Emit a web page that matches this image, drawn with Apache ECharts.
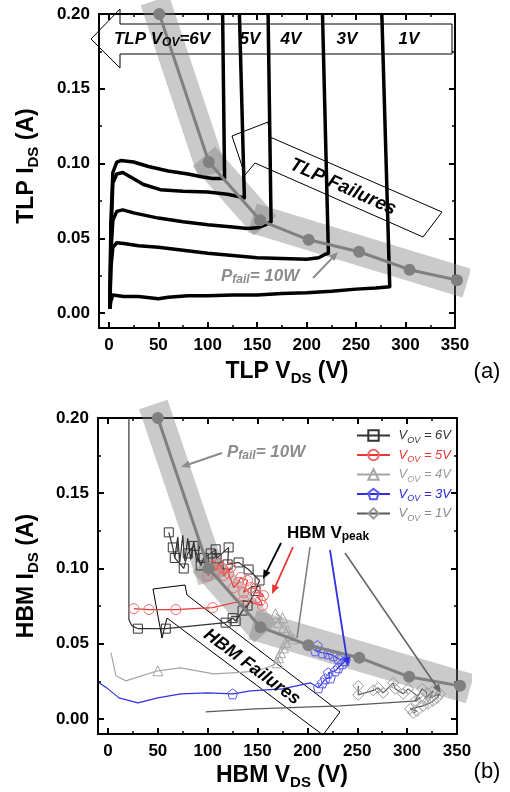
<!DOCTYPE html>
<html><head><meta charset="utf-8">
<script src="https://cdn.jsdelivr.net/npm/echarts@6/dist/echarts.min.js"></script>
<style>html,body{margin:0;padding:0;background:#fff}#c{width:510px;height:792px}</style>
</head><body><div id="c"></div>
<script>
// ---------------- data ----------------
const xTicks = [0, 50, 100, 150, 200, 250, 300, 350];
const xMinor = [25, 75, 125, 175, 225, 275, 325];
const yTicks = [0, 0.05, 0.10, 0.15, 0.20];
const yMinor = [0.025, 0.075, 0.125, 0.175];

// (a) TLP I-V curves
const tlp6V = [[1,0.003],[2,0.06],[4,0.094],[8,0.101],[12,0.102],[25,0.101],[40,0.098],[60,0.095],[80,0.093],[95,0.091],[105,0.090],[117,0.090],[115,0.20]];
const tlp5V = [[1,0.003],[2,0.05],[4,0.087],[8,0.093],[14,0.094],[22,0.091],[35,0.086],[52,0.0825],[75,0.0815],[100,0.081],[120,0.0795],[137,0.077],[132,0.20]];
const tlp4V = [[1,0.003],[2,0.04],[4,0.062],[8,0.068],[14,0.069],[25,0.067],[50,0.0635],[75,0.061],[100,0.059],[125,0.0575],[140,0.0565],[150,0.057],[158,0.059],[164,0.061],[161,0.20]];
const tlp3V = [[1,0.003],[2,0.03],[4,0.044],[8,0.047],[15,0.0465],[30,0.045],[50,0.044],[75,0.042],[100,0.040],[125,0.0385],[150,0.037],[175,0.0365],[200,0.036],[212,0.037],[218,0.039],[222,0.040],[216,0.20]];
const tlp1V = [[1,0.003],[2,0.008],[4,0.012],[15,0.011],[30,0.011],[50,0.0095],[60,0.0105],[80,0.0115],[100,0.0115],[125,0.012],[150,0.012],[175,0.013],[200,0.0135],[225,0.0145],[250,0.016],[270,0.0168],[284,0.0176],[276,0.20]];
const tlpPfail = [[51,0.20],[101,0.101],[153,0.062],[202,0.049],[253,0.041],[304,0.029],[352,0.022]];
const tlpBand1 = [[46.5,0.209],[105,0.093]];
const tlpBand2 = [[96,0.1048],[158,0.0583]];
const tlpBand3 = [[145,0.0636],[362,0.020]];

// (b) HBM data
const hbmPfail = [[50,0.20],[101,0.10],[153,0.061],[201,0.049],[252,0.0407],[302,0.028],[353,0.022]];
const hbmBand1 = [[45.5,0.209],[105,0.092]];
const hbmBand2 = [[96,0.1045],[158,0.0573]];
const hbmBand3 = [[145,0.0626],[363,0.020]];

const hbm6Vtrace = [[21,0.200],[21,0.066],[24,0.062],[30,0.060]];
const hbm6Vzig = [[67,0.107],[70,0.121],[72,0.104],[75,0.122],[77,0.105],[80,0.120],[83,0.106],[86,0.118],[89,0.104],[92,0.115]];
const hbm6V = [[30,0.060],[58,0.060],[118,0.064],[125,0.067],[128,0.065],[135,0.072],[140,0.0753],[148,0.085],[152,0.092],[141,0.0993],[131,0.104],[120,0.1027],[121,0.114],[109,0.1067],[108,0.1127],[103,0.110],[96,0.107],[93,0.102],[86,0.115],[80,0.110],[76,0.100],[67,0.107],[65,0.114],[61,0.124]];
const hbm5V = [[26,0.0733],[41,0.0727],[68,0.0727],[105,0.074],[136,0.0787],[155,0.0753],[153,0.0787],[150,0.0807],[156,0.082],[148,0.0867],[143,0.0873],[136,0.084],[140,0.092],[133,0.094],[131,0.0907],[126,0.0873],[121,0.0967],[123,0.1007],[116,0.0953],[115,0.100],[111,0.103],[108,0.0987],[105,0.102],[100,0.095]];
const hbm4Vtrace = [[3,0.044],[8,0.0287],[18,0.0253],[35,0.029],[50,0.032],[73,0.034],[106,0.030],[133,0.031],[150,0.032],[163,0.035],[170,0.0373]];
const hbm4V = [[50,0.032],[60,null],[170,0.0373],[171,0.0407],[173,0.044],[176,0.0473],[178,0.0507],[186,0.0533],[183,0.0553],[180,0.0587],[176,0.0607],[171,0.064],[175,0.0673],[168,0.070]];
const hbm3Vtrace = [[-9,0.024],[0,0.020],[11,0.014],[30,0.0107],[50,0.014],[73,0.0167],[100,0.0173],[125,0.0167],[143,0.0187],[175,0.020],[203,0.024],[211,0.0207]];
const hbm3V = [[125,0.0167],[130,null],[211,0.0207],[215,0.024],[218,0.0267],[223,0.0273],[221,0.0307],[228,0.032],[231,0.034],[235,0.0367],[238,0.0387],[231,0.040],[226,0.042],[221,0.0433],[215,0.044],[208,0.0453],[210,0.0487]];
const hbm1Vtrace = [[98,0.0047],[148,0.0067],[233,0.0087],[310,0.012]];
const hbm1V = [[251,0.022],[251,0.016],[266,0.019],[271,0.0207],[276,0.0173],[286,0.024],[288,0.020],[296,0.0167],[301,0.020],[313,0.014],[308,0.012],[315,0.020],[320,0.0173],[318,0.0133],[326,0.0187],[323,0.014],[333,0.0167],[330,0.014],[326,0.012],[321,0.010],[316,0.0087],[303,0.0067],[310,0.0053],[306,0.004]];

const legendNames = ['6V','5V','4V','3V','1V'];

// ---------------- styling ----------------
const FONT = '"Liberation Sans", Arial, sans-serif';
const grids = [
  {left: 99, top: 14, width: 356, height: 314},
  {left: 98, top: 418, width: 359, height: 316}
];

function mkX(g, pos, vals, len, lw, line, label) {
  return {
    type: 'value', gridIndex: g, position: pos, min: -10, max: 350,
    splitLine: {show: false},
    axisLine: {show: line, onZero: false, lineStyle: {color: '#000', width: 2}},
    axisTick: {show: true, inside: true, length: len, customValues: vals, lineStyle: {color: '#000', width: lw}},
    axisLabel: label ? {show: true, customValues: xTicks, margin: 9, color: '#000', fontSize: 17, fontWeight: 'bold', fontFamily: FONT} : {show: false}
  };
}
function mkY(g, pos, vals, len, lw, line, label) {
  return {
    type: 'value', gridIndex: g, position: pos, min: -0.01, max: 0.20,
    splitLine: {show: false},
    axisLine: {show: line, onZero: false, lineStyle: {color: '#000', width: 2}},
    axisTick: {show: true, inside: true, length: len, customValues: vals, lineStyle: {color: '#000', width: lw}},
    axisLabel: label ? {show: true, customValues: yTicks, margin: 9, color: '#000', fontSize: 17, fontWeight: 'bold', fontFamily: FONT, formatter: v => v.toFixed(2)} : {show: false}
  };
}
const xAxes = [], yAxes = [];
[0, 1].forEach(g => {
  xAxes.push(mkX(g, 'bottom', xTicks, 6, 2, true, true));
  xAxes.push(mkX(g, 'top', xTicks, 6, 2, true, false));
  xAxes.push(mkX(g, 'bottom', xMinor, 3, 1.5, false, false));
  xAxes.push(mkX(g, 'top', xMinor, 3, 1.5, false, false));
  yAxes.push(mkY(g, 'left', yTicks, 6, 2, true, true));
  yAxes.push(mkY(g, 'right', yTicks, 6, 2, true, false));
  yAxes.push(mkY(g, 'left', yMinor, 3, 1.5, false, false));
  yAxes.push(mkY(g, 'right', yMinor, 3, 1.5, false, false));
});

const series = [];
function ax(g) { return {xAxisIndex: g * 4, yAxisIndex: g * 4}; }
function band(g, d) {
  series.push(Object.assign({type: 'line', data: d, symbol: 'none', clip: false, silent: true, z: 1,
    lineStyle: {width: 30, color: 'rgba(128,128,128,0.42)', cap: 'butt'}}, ax(g)));
}
function pfail(g, d) {
  series.push(Object.assign({type: 'line', data: d, symbol: 'circle', symbolSize: 12, clip: false, silent: true, z: 5,
    itemStyle: {color: '#808080'}, lineStyle: {width: 3, color: '#808080'}}, ax(g)));
}
function tlp(d) {
  series.push(Object.assign({type: 'line', data: d, symbol: 'none', silent: true, z: 3,
    lineStyle: {width: 3.5, color: '#000', join: 'round'}}, ax(0)));
}
function trace(d, color, nm) {
  series.push(Object.assign({type: 'line', name: nm, data: d, symbol: 'none', silent: true, z: 3,
    lineStyle: {width: 1.2, color: color}}, ax(1)));
}
function marks(nm, d, lineColor, markColor, sym, size) {
  series.push(Object.assign({type: 'line', name: nm, data: d, symbol: sym, symbolSize: size, showSymbol: true, silent: true, z: 3,
    connectNulls: false,
    itemStyle: {color: 'rgba(255,255,255,0)', borderColor: markColor, borderWidth: 1},
    lineStyle: {width: 1.2, color: lineColor}}, ax(1)));
}

band(0, tlpBand1); band(0, tlpBand2); band(0, tlpBand3);
tlp(tlp6V); tlp(tlp5V); tlp(tlp4V); tlp(tlp3V); tlp(tlp1V);
pfail(0, tlpPfail);

band(1, hbmBand1); band(1, hbmBand2); band(1, hbmBand3);
const C6 = '#333333', C5 = '#e53935', C5m = '#ee6a6a', C4 = '#a6a6a6', C3 = '#3030e0', C3m = '#5a5af0', C1 = '#5a5a5a', C1m = '#9a9a9a';
const PENT = 'path://M0,-1 L0.951,-0.309 L0.588,0.809 L-0.588,0.809 L-0.951,-0.309 Z';
trace(hbm6Vtrace, C6, 't6'); trace(hbm6Vzig, C6, 'z6');
trace(hbm4Vtrace, C4, 't4'); trace(hbm3Vtrace, C3, 't3'); trace(hbm1Vtrace, C1, 't1');
marks('6V', hbm6V, C6, C6, 'rect', 9);
marks('5V', hbm5V, C5, C5m, 'circle', 10);
marks('4V', hbm4V, C4, C4, 'triangle', 10);
marks('3V', hbm3V, C3, C3m, PENT, 10);
marks('1V', hbm1V, C1, C1m, 'diamond', 11);
pfail(1, hbmPfail);

// ---------------- annotations ----------------
const textColors = {'6V': '#333333', '5V': '#e53935', '4V': '#9a9a9a', '3V': '#2b2bd8', '1V': '#8a8a8a'};
const legendRich = {};
legendNames.forEach(n => {
  legendRich['a' + n] = {fontFamily: FONT, fontStyle: 'italic', fontSize: 13, color: textColors[n]};
  legendRich['b' + n] = {fontFamily: FONT, fontStyle: 'italic', fontSize: 9, color: textColors[n], padding: [9, 0, 0, 0]};
});

function arrow(x1, y1, x2, y2, color, width, head) {
  const a = Math.atan2(y2 - y1, x2 - x1);
  const els = [];
  let ex = x2, ey = y2;
  if (head) {
    const L = head, W = head * 0.42;
    const bx = x2 - L * Math.cos(a), by = y2 - L * Math.sin(a);
    ex = bx + 0.5 * Math.cos(a); ey = by + 0.5 * Math.sin(a);
    els.push({type: 'polygon', z: 6, silent: true,
      shape: {points: [[x2, y2], [bx + W * Math.sin(a), by - W * Math.cos(a)], [bx - W * Math.sin(a), by + W * Math.cos(a)]]},
      style: {fill: color}});
  }
  els.unshift({type: 'line', z: 6, silent: true, shape: {x1: x1, y1: y1, x2: ex, y2: ey}, style: {stroke: color, lineWidth: width}});
  return els;
}
function rtext(x, y, text, rich, opts, align) {
  return Object.assign({type: 'text', x: x, y: y, z: 8, silent: true,
    style: {text: text, rich: rich, align: align || 'center', verticalAlign: 'middle'}}, opts || {});
}
const titleRich = {
  t: {fontFamily: FONT, fontWeight: 'bold', fontSize: 23, fill: '#000'},
  s: {fontFamily: FONT, fontWeight: 'bold', fontSize: 15, fill: '#000', padding: [13, 0, 0, 0]}
};
const biRich = {
  b: {fontFamily: FONT, fontWeight: 'bold', fontStyle: 'italic', fontSize: 17, fill: '#000'},
  s: {fontFamily: FONT, fontWeight: 'bold', fontStyle: 'italic', fontSize: 12, fill: '#000', padding: [8, 0, 0, 0]}
};
const grayRich = {
  b: {fontFamily: FONT, fontWeight: 'bold', fontStyle: 'italic', fontSize: 17, fill: '#8c8c8c'},
  s: {fontFamily: FONT, fontWeight: 'bold', fontStyle: 'italic', fontSize: 12, fill: '#8c8c8c', padding: [8, 0, 0, 0]}
};
const peakRich = {
  b: {fontFamily: FONT, fontWeight: 'bold', fontSize: 17, fill: '#000'},
  s: {fontFamily: FONT, fontWeight: 'bold', fontSize: 12, fill: '#000', padding: [8, 0, 0, 0]}
};
const boxStyle = {fill: '#fff', stroke: '#000', lineWidth: 1};
const deg = Math.PI / 180;

const graphics = [
  // top arrow box
  {type: 'polygon', z: 0, silent: true, shape: {points: [[91,39],[120,9],[120,24],[452,24],[452,54],[120,54],[120,68]]}, style: boxStyle},
  rtext(162, 39, '{b|TLP V}{s|OV}{b|=6V}', biRich),
  rtext(250, 39, '{b|5V}', biRich),
  rtext(291, 39, '{b|4V}', biRich),
  rtext(347, 39, '{b|3V}', biRich),
  rtext(409, 39, '{b|1V}', biRich),
  // TLP failures arrow
  {type: 'polygon', z: 0, silent: true, shape: {points: [[232,136],[268,122],[270,137],[442,212],[423,237],[255,163],[245,175]]}, style: boxStyle},
  rtext(343, 187, '{b|TLP Failures}', {b: {fontFamily: FONT, fontWeight: 'bold', fontStyle: 'italic', fontSize: 19, fill: '#000'}}, {rotation: -24 * deg}),
  // Pfail (a)
  rtext(221, 276, '{b|P}{s|fail}{b|= 10W}', grayRich, null, 'left'),
  ...arrow(313, 278, 338, 252, '#8c8c8c', 2, 9),
  // HBM failures arrow
  {type: 'polygon', z: 0, silent: true, shape: {points: [[153,589],[185,585],[187,595],[340,712],[323,735],[167,618],[162,638]]}, style: boxStyle},
  rtext(252, 667, '{b|HBM Failures}', {b: {fontFamily: FONT, fontWeight: 'bold', fontStyle: 'italic', fontSize: 18, fill: '#000'}}, {rotation: -36.5 * deg}),
  // Pfail (b)
  rtext(227, 452, '{b|P}{s|fail}{b|= 10W}', grayRich, null, 'left'),
  ...arrow(222, 453, 181, 467, '#8c8c8c', 2, 9),
  // HBM Vpeak
  rtext(287, 533, '{b|HBM V}{s|peak}', peakRich, null, 'left'),
  ...arrow(281, 543, 263, 579, '#000', 1.8, 9),
  ...arrow(293, 547, 272, 594, '#e53935', 1.8, 9),
  ...arrow(310, 547, 297, 638, '#808080', 1.6, 0),
  ...arrow(330, 550, 348, 666, '#3030e0', 1.8, 9),
  ...arrow(345, 553, 441, 693, '#666', 1.6, 9),
  // axis titles
  rtext(27, 166, '{t|TLP I}{s|DS}{t| (A)}', titleRich, {rotation: 90 * deg}),
  rtext(287, 372, '{t|TLP V}{s|DS}{t| (V)}', titleRich),
  rtext(27, 576, '{t|HBM I}{s|DS}{t| (A)}', titleRich, {rotation: 90 * deg}),
  rtext(282, 776, '{t|HBM V}{s|DS}{t| (V)}', titleRich),
  rtext(487, 372, '{n|(a)}', {n: {fontFamily: FONT, fontSize: 22, fill: '#000'}}),
  rtext(487, 772, '{n|(b)}', {n: {fontFamily: FONT, fontSize: 22, fill: '#000'}})
];

const chart = echarts.init(document.getElementById('c'), null, {renderer: 'canvas', width: 510, height: 792});
chart.setOption({
  animation: false,
  backgroundColor: '#fff',
  grid: grids,
  xAxis: xAxes,
  yAxis: yAxes,
  legend: {
    data: legendNames,
    orient: 'vertical', left: 351, top: 424,
    itemWidth: 33, itemHeight: 13, itemGap: 4,
    selectedMode: false,
    formatter: n => `{a${n}| V}{b${n}|OV}{a${n}| = ${n}}`,
    textStyle: {fontFamily: FONT, fontSize: 13, rich: legendRich}
  },
  series: series,
  graphic: {elements: graphics}
});
</script>
</body></html>
